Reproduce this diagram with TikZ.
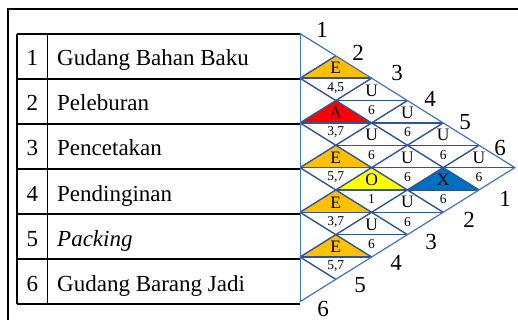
\documentclass[tikz,border=0pt]{standalone}
\usepackage{fontspec}
\setmainfont{Liberation Serif}
\definecolor{relE}{HTML}{FFC000}
\definecolor{relA}{HTML}{FF0000}
\definecolor{relO}{HTML}{FFFF00}
\definecolor{relX}{HTML}{0070C0}
\definecolor{relU}{HTML}{FFFFFF}
\definecolor{gridblue}{HTML}{2F5597}
\definecolor{edgeblue}{HTML}{4472C4}
\begin{document}
\begin{tikzpicture}[x=1pt,y=-1pt,
  frame/.style={black,line width=1.6pt},
  tab/.style={black,line width=1.1pt},
  lattice/.style={gridblue,line width=1.4pt},
  rim/.style={edgeblue,line width=1.2pt},
  bigtxt/.style={inner sep=0pt,font=\fontsize{23}{27}\selectfont},
  reltxt/.style={inner sep=0pt,font=\fontsize{17.5}{20}\selectfont},
  whytxt/.style={inner sep=0pt,font=\fontsize{13.5}{15}\selectfont}]
\useasboundingbox (0,0) rectangle (518,320);

% outer frame (top and left sides)
\draw[frame] (518,8.8) -- (7.8,8.8) -- (7.8,320);

% department table
\foreach \r in {0,...,6}
  \draw[tab] (17,{34+45*\r}) -- (300,{34+45*\r});
\draw[tab] (17,34) -- (17,304);
\draw[tab] (47.7,34) -- (47.7,304);

\foreach \r/\name in {1/Gudang Bahan Baku,2/Peleburan,3/Pencetakan,4/Pendinginan,5/\textit{Packing},6/Gudang Barang Jadi}{
  \node[bigtxt,anchor=base] (num\r) at (32.3,{34+45*(\r-1)+32}) {\r};
  \node[bigtxt,anchor=base west] (dept\r) at (57,{34+45*(\r-1)+32}) {\name};
}

% relationship diamonds: pair i/j, closeness letter, reason codes
\foreach \i/\j/\rel/\why in {
  1/2/E/{4,5}, 1/3/U/6, 1/4/U/6, 1/5/U/6, 1/6/U/6,
  2/3/A/{3,7}, 2/4/U/6, 2/5/U/6, 2/6/X/6,
  3/4/E/{5,7}, 3/5/O/1, 3/6/U/6,
  4/5/E/{3,7}, 4/6/U/6,
  5/6/E/{5,7}}{
  \pgfmathsetmacro\cx{300+35.8*(\j-\i)}
  \pgfmathsetmacro\cy{33.5+22.35*(\i+\j-1)}
  \fill[rel\rel] (\cx-35.8,\cy) -- (\cx,\cy-22.35) -- (\cx+35.8,\cy) -- cycle;
  \draw[lattice] (\cx-35.8,\cy) -- (\cx+35.8,\cy);
  \node[reltxt] (rel-\i-\j) at (\cx,\cy-10) {\rel};
  \node[whytxt] (why-\i-\j) at (\cx,\cy+9.5) {\why};
}

% diagonal lattice lines from each row boundary
\foreach \k in {1,...,5}{
  \draw[lattice] (300,{33.5+44.7*\k}) -- ++({35.8*(6-\k)},{22.35*(6-\k)});
  \draw[lattice] (300,{33.5+44.7*\k}) -- ++({35.8*\k},{-22.35*\k});
}

% outline of the chart
\draw[rim] (300,33.5) -- (514.8,167.6) -- (300,301.7);
\draw[edgeblue,line width=0.9pt] (300,33.5) -- (300,301.7);

% department numbers along the two edges
\foreach \n/\px/\py in {1/322/29.5,2/358/52.5,3/397/73.5,4/430/99,5/465/122.5,6/500/147.5}
  \node[bigtxt] (top\n) at (\px,\py) {\n};
\foreach \n/\px/\py in {1/505/198.5,2/469/220,3/431/242,4/396/262.5,5/360/285.5,6/323/308.5}
  \node[bigtxt] (bot\n) at (\px,\py) {\n};
\end{tikzpicture}
\end{document}
